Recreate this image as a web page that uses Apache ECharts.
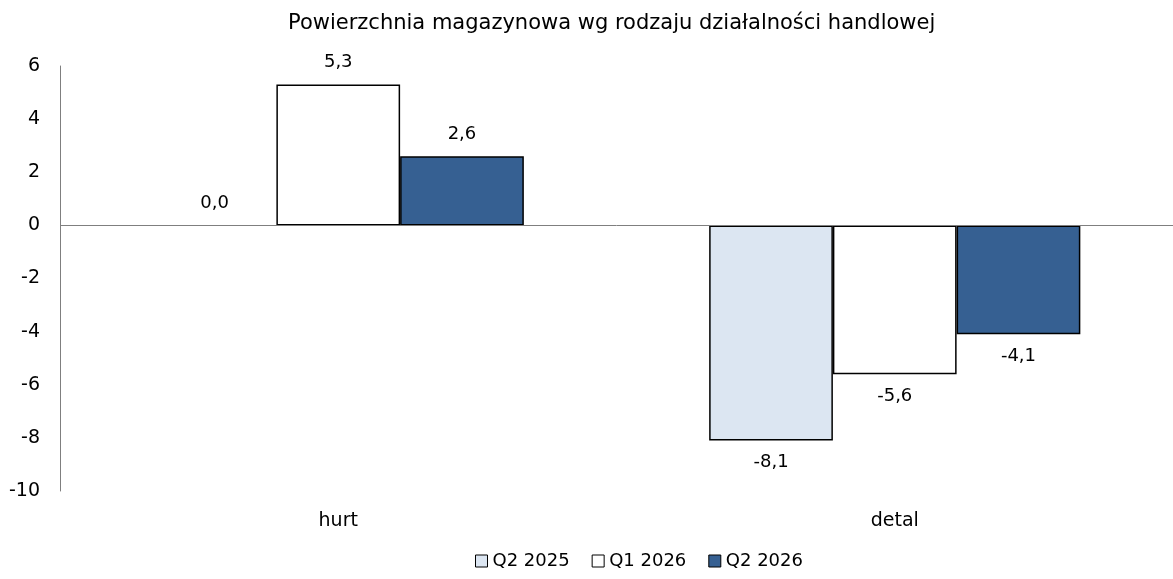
<!DOCTYPE html>
<html>
<head>
<meta charset="utf-8">
<script src="https://cdn.jsdelivr.net/npm/echarts@6/dist/echarts.min.js"></script>
<style>
  html, body { margin: 0; padding: 0; background: #fff; }
  #chart { width: 1173px; height: 579px; }
</style>
</head>
<body>
<div id="chart"></div>
<script>
// Warehouse space by type of trade activity
const categories = ['hurt', 'detal'];
const seriesNames = ['Q2 2025', 'Q1 2026', 'Q2 2026'];
const q2_2025 = [0.0, -8.1];
const q1_2026 = [5.3, -5.6];
const q2_2026 = [2.6, -4.1];
const yTicks = [-10, -8, -6, -4, -2, 0, 2, 4, 6];

const FONT = 'DejaVu Sans, sans-serif';
const colors = ['#dce6f2', '#ffffff', '#366092'];

function fmt(v) { return v.toFixed(1).replace('.', ','); }

function makeSeries(name, values, color, withZeroLine) {
  const s = {
    name: name,
    type: 'bar',
    barGap: '0%',
    barCategoryGap: '33.3%',
    itemStyle: { color: color, borderColor: '#000', borderWidth: 1.5 },
    data: values.map(v => ({
      value: v,
      itemStyle: v === 0 ? { borderWidth: 0 } : undefined,
      label: { position: v < 0 ? 'bottom' : 'top' }
    })),
    label: {
      show: true,
      distance: 13,
      color: '#000',
      fontFamily: FONT,
      fontSize: 18,
      formatter: p => fmt(p.value)
    }
  };
  if (withZeroLine) {
    s.markLine = {
      silent: true,
      symbol: 'none',
      label: { show: false },
      lineStyle: { color: '#7f7f7f', width: 1, type: 'solid' },
      data: [{ yAxis: 0 }]
    };
  }
  return s;
}

const chart = echarts.init(document.getElementById('chart'));
chart.setOption({
  animation: false,
  backgroundColor: '#fff',
  title: {
    text: 'Powierzchnia magazynowa wg rodzaju działalności handlowej',
    left: 283,
    top: 8,
    textStyle: { fontFamily: FONT, fontSize: 21, fontWeight: 'normal', color: '#000' }
  },
  legend: {
    bottom: 4,
    left: 470,
    itemWidth: 12,
    itemHeight: 12,
    itemGap: 22,
    icon: 'rect',
    textStyle: { fontFamily: FONT, fontSize: 18, color: '#000', padding: [0, 0, 0, 0] },
    itemStyle: { borderColor: '#000', borderWidth: 1 },
    data: seriesNames
  },
  grid: { left: 60, top: 66, width: 1117, height: 425, containLabel: false },
  xAxis: {
    type: 'category',
    data: categories,
    axisLine: { show: false, onZero: false },
    axisTick: { show: false },
    axisLabel: { margin: 21, color: '#000', fontFamily: FONT, fontSize: 19 }
  },
  yAxis: {
    type: 'value',
    min: -10,
    max: 6,
    interval: 2,
    axisLine: { show: true, lineStyle: { color: '#7f7f7f', width: 1 } },
    axisTick: { show: false },
    splitLine: { show: false },
    axisLabel: {
      margin: 20,
      color: '#000',
      fontFamily: FONT,
      fontSize: 19,
      formatter: v => (yTicks.includes(v) ? String(v) : '')
    }
  },
  series: [
    makeSeries(seriesNames[0], q2_2025, colors[0], true),
    makeSeries(seriesNames[1], q1_2026, colors[1], false),
    makeSeries(seriesNames[2], q2_2026, colors[2], false)
  ]
});
</script>
</body>
</html>
